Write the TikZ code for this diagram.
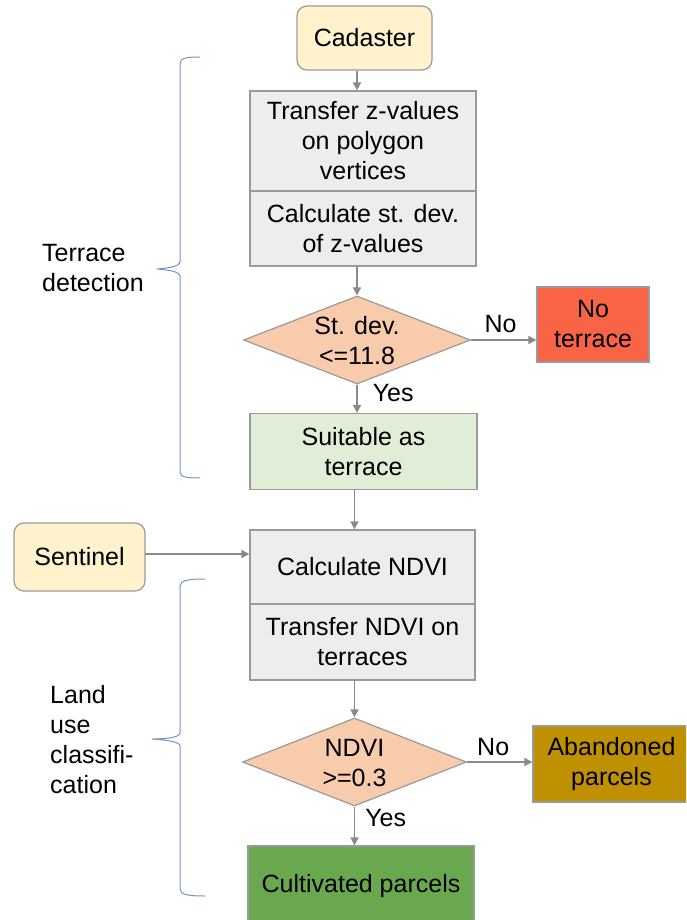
\documentclass[tikz,border=0pt]{standalone}
\usepackage{fontspec}
\setmainfont{Liberation Sans}
\usetikzlibrary{shapes.geometric,arrows.meta}
\definecolor{bordergray}{HTML}{9A9A9A}
\definecolor{arrgray}{HTML}{8A8A8A}
\definecolor{cadfill}{HTML}{FFF2CC}
\definecolor{boxfill}{HTML}{EDEDED}
\definecolor{diafill}{HTML}{F8CBAD}
\definecolor{nofill}{HTML}{F96446}
\definecolor{suitfill}{HTML}{E0EED8}
\definecolor{abfill}{HTML}{BF9000}
\definecolor{cultfill}{HTML}{6AA84F}
\definecolor{bracecol}{HTML}{7393C4}
\tikzset{
  lbl/.style={font=\fontsize{25}{30}\selectfont, inner sep=0pt},
  src/.style={lbl, draw=bordergray, line width=1.2pt, rounded corners=10pt, fill=cadfill, align=center},
  stepbox/.style={lbl, draw=bordergray, line width=1.2pt, align=center, minimum width=226pt},
  dia/.style={diamond, draw=bordergray, line width=1.2pt, fill=diafill, inner sep=0pt, minimum width=227pt, minimum height=88pt, aspect=2.58},
  arr/.style={draw=arrgray, line width=1.6pt, -{Triangle[length=8pt,width=8pt]}},
  brace/.style={draw=bracecol, line width=1pt},
}
\begin{document}
\begin{tikzpicture}[x=1pt,y=-1pt]
\useasboundingbox (0,0) rectangle (686,920);
\begin{scope}
\clip (0,0) rectangle (686,920);
% sources
\node[src, minimum width=135pt, minimum height=64pt] (cad) at (364.5,38) {Cadaster};
\node[src, minimum width=131pt, minimum height=68pt] (sen) at (79.5,557) {Sentinel};
% terrace detection
\node[stepbox, fill=boxfill, minimum height=100pt] (b1) at (363,141) {Transfer z-values\\on polygon\\vertices};
\node[stepbox, fill=boxfill, minimum height=75pt] (b2) at (363,228.5) {Calculate st. dev.\\of z-values};
\node[dia] (d1) at (357,340) {};
\node[lbl, align=center] (d1t) at (357,341) {St. dev.\\<=11.8};
\node[lbl, draw=bordergray, line width=1.2pt, fill=nofill, align=center, minimum width=112pt, minimum height=75pt] (nt) at (593,324.5) {No\\terrace};
\node[stepbox, fill=suitfill, minimum width=227pt, minimum height=76pt] (suit) at (363.5,451.5) {Suitable as\\terrace};
% land use
\node[stepbox, fill=boxfill, minimum width=225pt, minimum height=74pt] (c1) at (362.5,567) {Calculate NDVI};
\node[stepbox, fill=boxfill, minimum width=225pt, minimum height=76pt] (c2) at (362.5,642) {Transfer NDVI on\\terraces};
\node[dia, minimum width=224pt] (d2) at (354.5,762) {};
\node[lbl, align=center] (d2t) at (354.5,763) {NDVI\\>=0.3};
\node[lbl, draw=bordergray, line width=1.2pt, fill=abfill, minimum width=175pt, minimum height=76pt,
  label={[lbl, align=center, xshift=-9pt]center:{Abandoned\\parcels}}] (ab) at (620.5,764) {};
\node[stepbox, fill=cultfill, minimum width=226pt, minimum height=80pt] (cult) at (361,886) {Cultivated parcels};
\end{scope}
% connectors
\draw[arr] (d1.north |- cad.south) -- (d1.north |- b1.north);
\draw[arr] (d1.north |- b2.south) -- (d1.north);
\draw[arr] (d1.east) -- node[lbl, above=6pt, pos=0.45] (no1) {No} (nt.west |- d1.east);
\draw[arr] (d1.south) -- node[lbl, right=15pt, pos=0.3] (yes1) {Yes} (d1.south |- suit.north);
\draw[arr] (d2.north |- suit.south) -- (d2.north |- c1.north);
\coordinate (senout) at (145,554);
\draw[arr] (senout) -- (c1.west |- senout);
\draw[arr] (d2.north |- c2.south) -- (d2.north);
\draw[arr] (d2.east) -- node[lbl, above=5pt, pos=0.4] (no2) {No} (ab.west |- d2.east);
\draw[arr] (d2.south) -- node[lbl, right=10pt, pos=0.3] (yes2) {Yes} (d2.south |- cult.north);
% braces
\draw[brace] (200,57) .. controls (186,57) and (180,58) .. (180,64) -- (180,262) .. controls (180,266) and (170,268) .. (157,269)
  .. controls (170,270) and (180,272) .. (180,276) -- (180,472) .. controls (180,477) and (186,478) .. (200,478);
\node[lbl, align=left, anchor=west] (td) at (42,268) {Terrace\\detection};
\draw[brace] (205,579) .. controls (190,579) and (180,580) .. (180,586) -- (180,733) .. controls (180,737) and (168,739) .. (152,739)
  .. controls (168,740) and (180,742) .. (180,746) -- (180,889) .. controls (180,895) and (190,896) .. (205,896);
\node[lbl, align=left, anchor=west] (lu) at (50,740) {Land\\use\\classifi-\\cation};
\end{tikzpicture}
\end{document}
